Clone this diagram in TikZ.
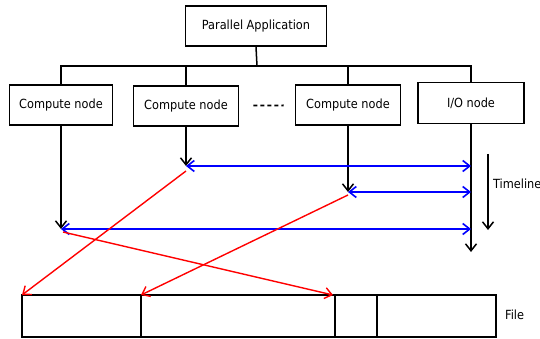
\documentclass[tikz,border=0pt]{standalone}
\usepackage{fontspec}
\setmainfont{DejaVu Sans Condensed}
\usepackage{tikz}
\usetikzlibrary{arrows.meta,positioning,calc}

\begin{document}
\begin{tikzpicture}[x = 1pt, y = -1pt,
  box/.style = {draw, line width = 1.6pt, minimum height = 40, inner sep = 0pt, font = \fontsize{12.6}{14}\selectfont},
  blk/.style = {draw, line width = 1.6pt, minimum height = 42, inner sep = 0pt, outer sep = 0pt, anchor = west},
  flow/.style = {line width = 1.5pt, -{Straight Barb[length = 7pt, width = 11pt]}},
  msg/.style = {blue, line width = 1.6pt, {Straight Barb[length = 7pt, width = 11pt]}-{Straight Barb[length = 7pt, width = 11pt]}},
  io/.style = {red, line width = 1.4pt, -{Straight Barb[length = 7pt, width = 11pt]}},
  lbl/.style = {anchor = west, inner sep = 0pt, font = \fontsize{12.6}{14}\selectfont}]
\useasboundingbox (0,0) rectangle (540,339);
\node[box, minimum width = 141] (app) at (256,26) {Parallel Application};
\node[box, minimum width = 103] (cn1) at (61,105) {Compute node};
\node[box, minimum width = 105] (cn2) at (186,106) {Compute node};
\node[box, minimum width = 105] (cn3) at (348,105) {Compute node};
\node[box, minimum width = 106, minimum height = 41] (ion) at (471,103) {I/O node};
\draw[line width = 1.8pt, dash pattern = on 4pt off 3pt, shorten < = 14pt, shorten > = 11pt] (cn2) -- (cn3);
% Tree from the application to the nodes
\coordinate (bus) at (257,66);
\draw[line width = 1.5pt] (app.south) -- (bus);
\draw[line width = 1.5pt] (cn1.north) |- (bus) -| (ion.north);
\draw[line width = 1.5pt] (cn2.north) -- (cn2.north |- bus);
\draw[line width = 1.5pt] (cn3.north) -- (cn3.north |- bus);
% Time on each node
\coordinate (e1) at (61,229);
\coordinate (e2) at (186,166);
\coordinate (e3) at (348,192);
\coordinate (iend) at (471,252);
\draw[flow] (cn1.south) -- (e1);
\draw[flow] (cn2.south) -- (e2);
\draw[flow] (cn3.south) -- (e3);
\draw[flow] (ion.south) -- (iend);
\draw[msg] (e2) -- (e2 -| ion);
\draw[msg] (e3) -- (e3 -| ion);
\draw[msg] (e1) -- (e1 -| ion);
% Timeline
\coordinate (tl1) at (488,154);
\coordinate (tl2) at (488,230);
\draw[flow] (tl1) -- (tl2);
\node[lbl] (tl) at (493,184) {Timeline};
% File
\node[blk, minimum width = 119] (f1) at (22,316) {};
\node[blk, minimum width = 194] (f2) at (f1.east) {};
\node[blk, minimum width = 42] (f3) at (f2.east) {};
\node[blk, minimum width = 119] (f4) at (f3.east) {};
\node[lbl] (file) at (505,315) {File};
\draw[io] ([yshift = -5pt]e2) -- (f1.north west);
\draw[io] ([yshift = -3pt]e3) -- (f2.north west);
\draw[io] ([xshift = 2pt, yshift = -3pt]e1) -- ([xshift = -2pt]f3.north west);
\end{tikzpicture}
\end{document}
